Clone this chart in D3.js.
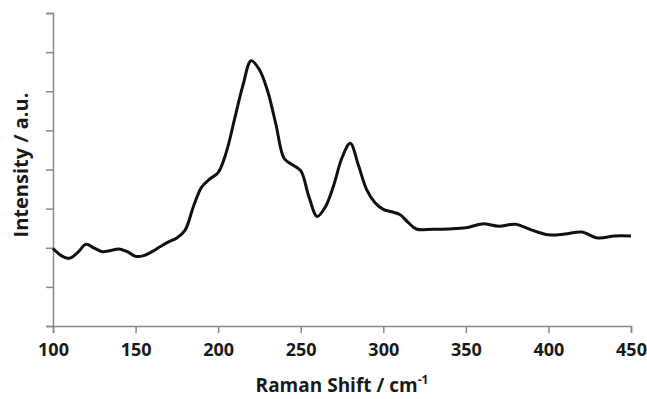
<!DOCTYPE html>
<html lang="en">
<head>
<meta charset="UTF-8" />
<title>Raman spectrum</title>
<script src="https://d3js.org/d3.v7.min.js"></script>
<style>
  body { margin: 0; background: #fff; }
  svg text { font-family: "Open Sans", "Liberation Sans", sans-serif; font-weight: bold; fill: #1a1a1a; }
  .axis path, .axis line { stroke: #888; stroke-width: 1.5; }
</style>
</head>
<body>
<div id="chart"></div>
<script>
// Raman shift (cm-1) and intensity
var shift = [100, 105, 110, 115, 120, 125, 130, 135, 140, 145, 150, 155, 160, 165, 170, 175,
             180, 185, 190, 195, 200, 205, 210, 215, 220, 225, 230, 235, 240, 245, 250, 255,
             260, 265, 270, 275, 280, 285, 290, 295, 300, 305, 310, 315, 320, 330, 340, 350,
             360, 370, 380, 390, 400, 410, 420, 430, 440, 450];
var intensity = [1.98, 1.80, 1.73, 1.88, 2.09, 1.99, 1.90, 1.93, 1.97, 1.90, 1.78, 1.80, 1.90, 2.03, 2.15, 2.25,
                 2.45, 3.05, 3.55, 3.76, 3.92, 4.45, 5.30, 6.15, 6.78, 6.55, 6.00, 5.15, 4.28, 4.12, 3.97, 3.30,
                 2.80, 3.05, 3.60, 4.30, 4.67, 4.10, 3.48, 3.15, 2.98, 2.92, 2.85, 2.65, 2.48, 2.47, 2.48, 2.51,
                 2.61, 2.55, 2.60, 2.45, 2.33, 2.35, 2.40, 2.25, 2.30, 2.30];
var xTicks = [100, 150, 200, 250, 300, 350, 400, 450];
var yTicks = [0, 1, 2, 3, 4, 5, 6, 7, 8];

var width = 647, height = 399;
var margin = {top: 13, right: 16, bottom: 73, left: 53};

var svg = d3.select("#chart").append("svg")
    .attr("width", width)
    .attr("height", height);

var x = d3.scaleLinear().domain([100, 450]).range([margin.left, width - margin.right]);
var y = d3.scaleLinear().domain([0, 8]).range([height - margin.bottom, margin.top]);

// x axis
var gx = svg.append("g")
    .attr("class", "axis")
    .attr("transform", "translate(0," + y(0) + ")")
    .call(d3.axisBottom(x).tickValues(xTicks).tickSizeOuter(0).tickSize(7).tickPadding(10));
gx.selectAll("text").style("font-size", "18px");

// y axis, ticks only
svg.append("g")
    .attr("class", "axis")
    .attr("transform", "translate(" + x(100) + ",0)")
    .call(d3.axisLeft(y).tickValues(yTicks).tickSizeOuter(0).tickSize(7).tickFormat(""));

// spectrum
var line = d3.line()
    .x(function(d, i) { return x(shift[i]); })
    .y(function(d) { return y(d); })
    .curve(d3.curveCatmullRom.alpha(0.5));

svg.append("path")
    .datum(intensity)
    .attr("fill", "none")
    .attr("stroke", "#111")
    .attr("stroke-width", 3)
    .attr("stroke-linejoin", "round")
    .attr("d", line);

// axis titles
var xt = svg.append("text")
    .attr("x", 342)
    .attr("y", 392)
    .attr("text-anchor", "middle")
    .style("font-size", "19px");
xt.append("tspan").text("Raman Shift / cm");
xt.append("tspan").attr("dy", -8).style("font-size", "12px").text("-1");

svg.append("text")
    .attr("transform", "translate(28,165) rotate(-90)")
    .attr("text-anchor", "middle")
    .style("font-size", "20px")
    .text("Intensity / a.u.");
</script>
</body>
</html>
